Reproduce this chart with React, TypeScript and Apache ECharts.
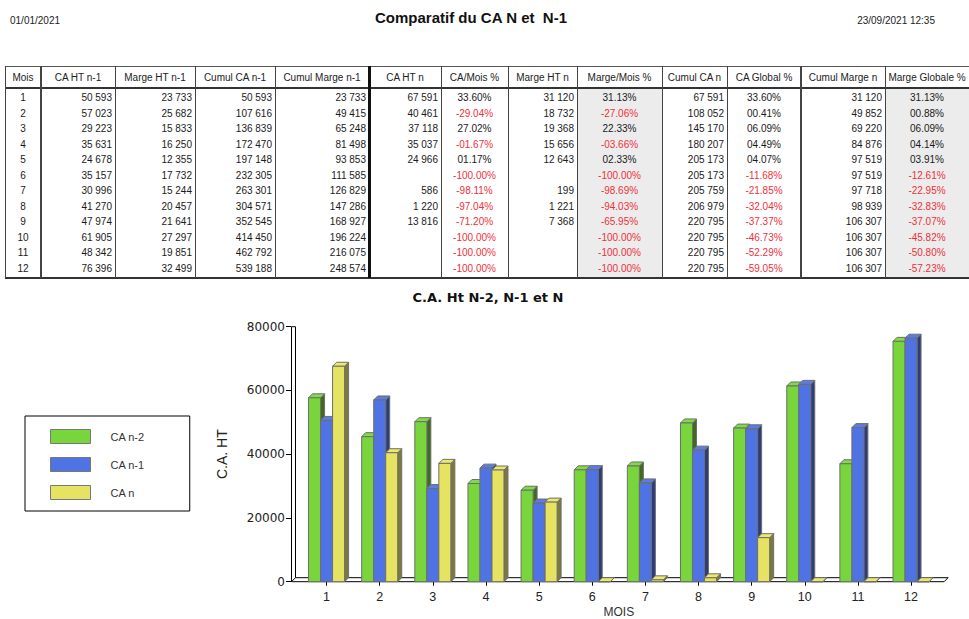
import React, { useEffect, useRef } from 'react';
import * as echarts from 'echarts';

const W = 969;
const H = 619;

// ---------- DATA ----------
const months = ['1', '2', '3', '4', '5', '6', '7', '8', '9', '10', '11', '12'];
const caHtN2 = [57700, 45500, 50200, 30800, 28700, 35100, 36300, 49800, 48200, 61400, 37000, 75400];
const caHtN1 = [50593, 57023, 29223, 35631, 24678, 35157, 30996, 41270, 47974, 61905, 48342, 76396];
const margeHtN1 = [23733, 25682, 15833, 16250, 12355, 17732, 15244, 20457, 21641, 27297, 19851, 32499];
const cumulCaN1 = [50593, 107616, 136839, 172470, 197148, 232305, 263301, 304571, 352545, 414450, 462792, 539188];
const cumulMargeN1 = [23733, 49415, 65248, 81498, 93853, 111585, 126829, 147286, 168927, 196224, 216075, 248574];
const caHtN: (number | null)[] = [67591, 40461, 37118, 35037, 24966, null, 586, 1220, 13816, null, null, null];
const caMoisPct = [33.6, -29.04, 27.02, -1.67, 1.17, -100, -98.11, -97.04, -71.2, -100, -100, -100];
const margeHtN: (number | null)[] = [31120, 18732, 19368, 15656, 12643, null, 199, 1221, 7368, null, null, null];
const margeMoisPct = [31.13, -27.06, 22.33, -3.66, 2.33, -100, -98.69, -94.03, -65.95, -100, -100, -100];
const cumulCaN = [67591, 108052, 145170, 180207, 205173, 205173, 205759, 206979, 220795, 220795, 220795, 220795];
const caGlobalPct = [33.6, 0.41, 6.09, 4.49, 4.07, -11.68, -21.85, -32.04, -37.37, -46.73, -52.29, -59.05];
const cumulMargeN = [31120, 49852, 69220, 84876, 97519, 97519, 97718, 98939, 106307, 106307, 106307, 106307];
const margeGlobalPct = [31.13, 0.88, 6.09, 4.14, 3.91, -12.61, -22.95, -32.83, -37.07, -45.82, -50.8, -57.23];

const yMin = 0;
const yMax = 80000;
const yInterval = 20000;

const seriesNames = ['CA n-2', 'CA n-1', 'CA n'];
const headerTexts = [
  'Mois', 'CA HT n-1', 'Marge HT n-1', 'Cumul CA n-1', 'Cumul Marge n-1',
  'CA HT n', 'CA/Mois %', 'Marge HT n', 'Marge/Mois %', 'Cumul CA n',
  'CA Global %', 'Cumul Marge n', 'Marge Globale %',
];
const pageTitle = 'Comparatif du CA N et  N-1';
const chartTitle = 'C.A. Ht N-2, N-1 et N';
const dateLeft = '01/01/2021';
const dateRight = '23/09/2021 12:35';

// ---------- STYLE / LAYOUT ----------
const colors = [
  { front: '#78d63c', side: '#3f6a1f', top: '#7fdc44' },
  { front: '#4f73e3', side: '#2c3d7a', top: '#5a7ce8' },
  { front: '#e6e362', side: '#7c7a3a', top: '#ebe86c' },
];
const outline = '#6e6e6e';
const colEdges = [5, 41, 115, 195, 275, 369, 441, 508, 577, 662, 727, 801, 885, 969];
const headerTop = 66;
const headerBottom = 88;
const tableBottom = 278;
const row0 = 97.5;
const rowStep = 15.5;
const tableFont = 'Liberation Sans';

function fmtNum(v: number | null): string {
  if (v == null) return '';
  return String(v).replace(/\B(?=(\d{3})+(?!\d))/g, ' ');
}
function fmtPct(v: number): string {
  const s = Math.abs(v).toFixed(2).padStart(5, '0');
  return (v < 0 ? '-' : '') + s + '%';
}

type Col = { vals: string[]; align: 'center' | 'right'; red?: boolean[] };

function buildColumns(): Col[] {
  const neg = (a: number[]) => a.map((v) => v < 0);
  return [
    { vals: months, align: 'center' },
    { vals: caHtN1.map(fmtNum), align: 'right' },
    { vals: margeHtN1.map(fmtNum), align: 'right' },
    { vals: cumulCaN1.map(fmtNum), align: 'right' },
    { vals: cumulMargeN1.map(fmtNum), align: 'right' },
    { vals: caHtN.map(fmtNum), align: 'right' },
    { vals: caMoisPct.map(fmtPct), align: 'center', red: neg(caMoisPct) },
    { vals: margeHtN.map(fmtNum), align: 'right' },
    { vals: margeMoisPct.map(fmtPct), align: 'center', red: neg(margeMoisPct) },
    { vals: cumulCaN.map(fmtNum), align: 'right' },
    { vals: caGlobalPct.map(fmtPct), align: 'center', red: neg(caGlobalPct) },
    { vals: cumulMargeN.map(fmtNum), align: 'right' },
    { vals: margeGlobalPct.map(fmtPct), align: 'center', red: neg(margeGlobalPct) },
  ];
}

function buildTableGraphics(): any[] {
  const els: any[] = [];
  [8, 12].forEach((ci) => {
    els.push({
      type: 'rect', silent: true, z: 1,
      shape: { x: colEdges[ci], y: headerBottom, width: colEdges[ci + 1] - colEdges[ci], height: tableBottom - headerBottom },
      style: { fill: '#ececec' },
    });
  });
  els.push({ type: 'line', silent: true, z: 3, shape: { x1: 5, y1: headerTop + 0.5, x2: W, y2: headerTop + 0.5 }, style: { stroke: '#555', lineWidth: 1 } });
  els.push({ type: 'line', silent: true, z: 3, shape: { x1: 5, y1: headerBottom, x2: W, y2: headerBottom }, style: { stroke: '#333', lineWidth: 2 } });
  els.push({ type: 'line', silent: true, z: 3, shape: { x1: 5, y1: tableBottom, x2: W, y2: tableBottom }, style: { stroke: '#333', lineWidth: 2 } });
  colEdges.slice(0, 13).forEach((x, i) => {
    let lw = 1;
    let stroke = '#444';
    if (i === 1 || i === 11) lw = 2;
    if (i === 5) { lw = 3; stroke = '#111'; }
    const xx = lw % 2 === 1 ? x + 0.5 : x;
    els.push({ type: 'line', silent: true, z: 3, shape: { x1: xx, y1: headerTop, x2: xx, y2: tableBottom }, style: { stroke, lineWidth: lw } });
  });
  headerTexts.forEach((h, i) => {
    els.push({
      type: 'text', silent: true, z: 4,
      x: (colEdges[i] + colEdges[i + 1]) / 2, y: (headerTop + headerBottom) / 2 + 0.5,
      style: { text: h, fill: '#222', fontSize: 10, fontFamily: tableFont, align: 'center', verticalAlign: 'middle' },
    });
  });
  buildColumns().forEach((col, ci) => {
    const l = colEdges[ci];
    const r = colEdges[ci + 1];
    col.vals.forEach((v, ri) => {
      if (!v) return;
      els.push({
        type: 'text', silent: true, z: 4,
        x: col.align === 'right' ? r - 3 : (l + r) / 2,
        y: row0 + ri * rowStep,
        style: {
          text: v,
          fill: col.red && col.red[ri] ? '#f0303a' : '#1a1a1a',
          fontSize: 10, fontFamily: tableFont,
          align: col.align, verticalAlign: 'middle',
        },
      });
    });
  });
  els.push({ type: 'text', silent: true, x: 10, y: 20, style: { text: dateLeft, fill: '#222', fontSize: 10, fontFamily: tableFont, align: 'left', verticalAlign: 'middle' } });
  els.push({ type: 'text', silent: true, x: 935, y: 20, style: { text: dateRight, fill: '#222', fontSize: 10, fontFamily: tableFont, align: 'right', verticalAlign: 'middle' } });
  return els;
}

const DEPTH = 4;

function makeBarRender(idx: number) {
  const c = colors[idx];
  return (params: any, api: any) => {
    const cat = api.value(0);
    const val = api.value(1);
    const band = api.size([1, 0])[0];
    const bw = band * 0.226;
    const base = api.coord([cat, 0]);
    const top = api.coord([cat, val]);
    const x0 = base[0] - 1.5 * bw + idx * bw;
    const x1 = x0 + bw;
    const yt = top[1];
    const yb = base[1];
    const d = DEPTH;
    return {
      type: 'group',
      children: [
        {
          type: 'polygon',
          shape: { points: [[x1, yt], [x1 + d, yt - d], [x1 + d, yb - d], [x1, yb]] },
          style: { fill: c.side, stroke: outline, lineWidth: 1 },
        },
        {
          type: 'polygon',
          shape: { points: [[x0, yt], [x0 + d, yt - d], [x1 + d, yt - d], [x1, yt]] },
          style: { fill: c.top, stroke: outline, lineWidth: 1 },
        },
        {
          type: 'rect',
          shape: { x: x0, y: yt, width: bw, height: yb - yt },
          style: { fill: c.front, stroke: outline, lineWidth: 1 },
        },
      ],
    };
  };
}

function frameRender(params: any, api: any) {
  const cs = params.coordSys;
  const x0 = cs.x - 9 + 0.5;
  const x1 = cs.x + cs.width + 6.5;
  const yb = cs.y + cs.height;
  const yt = cs.y;
  const d = DEPTH;
  return {
    type: 'group',
    children: [
      {
        type: 'polygon',
        shape: { points: [[x0, yb], [x1, yb], [x1 + d, yb - d], [x0 + d, yb - d]] },
        style: { fill: '#fff', stroke: '#000', lineWidth: 1 },
      },
      { type: 'line', shape: { x1: x0, y1: yb, x2: x0, y2: yt }, style: { stroke: '#000', lineWidth: 1 } },
      { type: 'line', shape: { x1: x0 + d, y1: yb - d, x2: x0 + d, y2: yt }, style: { stroke: '#000', lineWidth: 1 } },
      { type: 'line', shape: { x1: x0, y1: yt, x2: x0 + d, y2: yt }, style: { stroke: '#000', lineWidth: 1 } },
    ],
  };
}

function buildOption(): any {
  const barData = [caHtN2, caHtN1, caHtN.map((v) => (v == null ? 0 : v))];
  return {
    animation: false,
    backgroundColor: '#fff',
    title: [
      {
        text: pageTitle, left: 471, top: 10, padding: 0, textAlign: 'center',
        textStyle: { fontSize: 15, fontWeight: 'bold', fontFamily: tableFont, color: '#111' },
      },
      {
        text: chartTitle, left: 488, top: 291, padding: 0, textAlign: 'center',
        textStyle: { fontSize: 13, fontWeight: 'bold', fontFamily: 'DejaVu Sans', color: '#111' },
      },
    ],
    legend: {
      orient: 'vertical', left: 25, top: 416,
      padding: [13, 45, 11, 25],
      itemWidth: 40, itemHeight: 14, itemGap: 13,
      borderColor: '#000', borderWidth: 1,
      icon: 'rect',
      itemStyle: { borderColor: '#777', borderWidth: 1 },
      textStyle: { fontSize: 11, color: '#333', fontFamily: tableFont, padding: [0, 0, 0, 15] },
      data: seriesNames,
    },
    grid: { left: 300, right: 31.4, top: 326.7, bottom: 37.3 },
    xAxis: {
      type: 'category', data: months,
      axisLine: { show: false },
      axisTick: { show: true, alignWithLabel: true, length: 4, lineStyle: { color: '#000' } },
      axisLabel: { margin: 9, fontSize: 12.5, fontFamily: tableFont, color: '#222' },
      splitLine: { show: false },
      name: 'MOIS', nameLocation: 'middle', nameGap: 24,
      nameTextStyle: { fontSize: 12, fontFamily: tableFont, color: '#333' },
    },
    yAxis: {
      type: 'value', min: yMin, max: yMax, interval: yInterval, offset: 9,
      axisLine: { show: false },
      axisTick: { show: true, length: 5, lineStyle: { color: '#000' } },
      axisLabel: {
        margin: 6, fontSize: 12, fontFamily: 'DejaVu Sans', color: '#222',
        formatter: (v: number) => String(v),
      },
      splitLine: { show: false },
      name: 'C.A. HT', nameLocation: 'middle', nameGap: 62, nameRotate: 90,
      nameTextStyle: { fontSize: 14, fontFamily: tableFont, color: '#222' },
    },
    series: [
      {
        type: 'custom', name: 'frame', silent: true, z: 1,
        renderItem: frameRender, data: [[0, 0]],
      },
      ...seriesNames.map((name, i) => ({
        type: 'custom', name, z: 2 + i,
        itemStyle: { color: colors[i].front },
        renderItem: makeBarRender(i),
        data: barData[i].map((v, k) => [k, v]),
      })),
    ],
    graphic: buildTableGraphics(),
  };
}

export default function App() {
  const ref = useRef<HTMLDivElement>(null);
  useEffect(() => {
    if (!ref.current) return;
    const chart = echarts.init(ref.current, undefined, { renderer: 'svg' });
    chart.setOption(buildOption());
    return () => chart.dispose();
  }, []);
  return (
    <div
      ref={ref}
      style={{ position: 'fixed', left: 0, top: 0, width: W, height: H, background: '#fff' }}
    />
  );
}
